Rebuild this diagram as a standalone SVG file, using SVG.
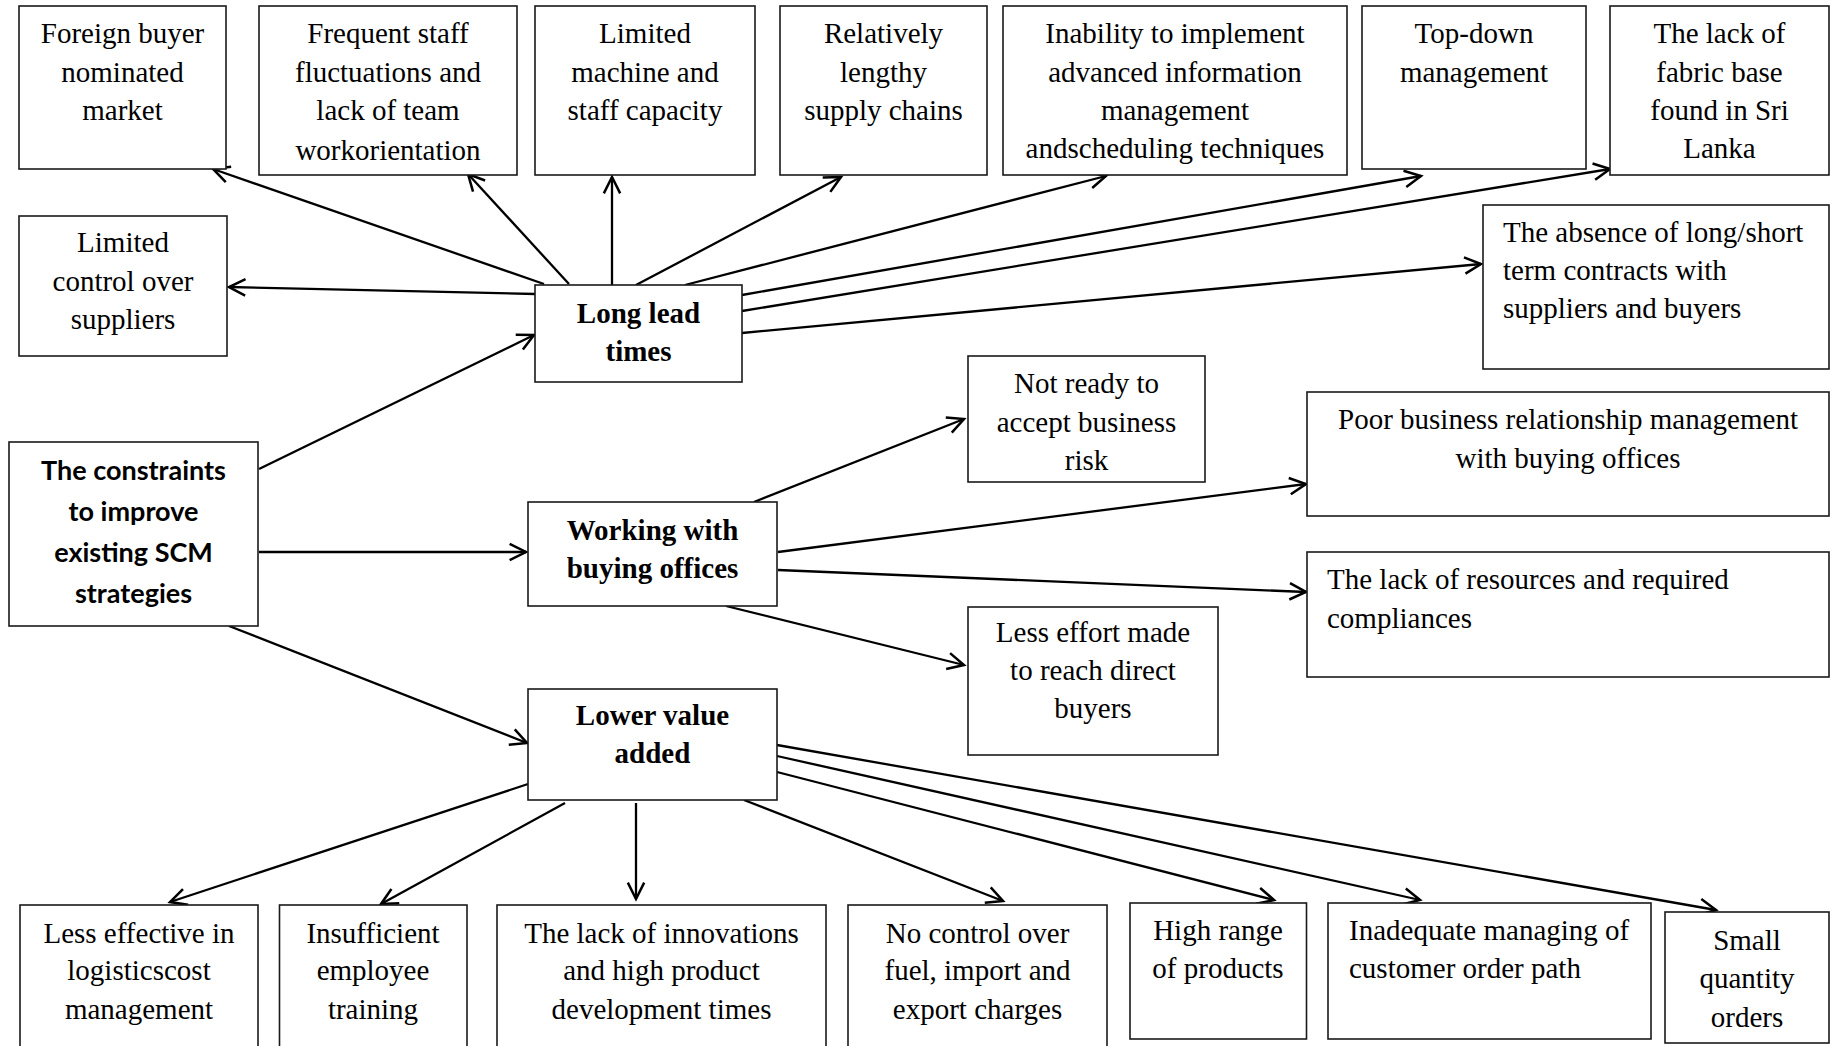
<svg xmlns="http://www.w3.org/2000/svg" width="1830" height="1046" viewBox="0 0 1830 1046">
  <style>
    .box { fill: #ffffff; stroke: #1a1a1a; stroke-width: 1.6; }
    .t { font-family: "Liberation Serif", "Times New Roman", serif; font-size: 29px; fill: #000; }
    .c { text-anchor: middle; }
    .b { font-weight: bold; }
    .root { font-family: Lato, "Open Sans", sans-serif; font-weight: bold; font-size: 27px; fill: #000; text-anchor: middle; }
    .edge { fill: none; stroke: #000; stroke-width: 2.3; marker-end: url(#arrow); }
  </style>
  <defs>
    <marker id="arrow" markerUnits="userSpaceOnUse" markerWidth="24" markerHeight="24" viewBox="-18 -10 22 20" refX="0" refY="0" orient="auto">
      <path d="M-15,-7.5 L0,0 L-15,7.5" fill="none" stroke="#000" stroke-width="2.3"/>
    </marker>
  </defs>
  <rect width="1830" height="1046" fill="#ffffff"/>

  <!-- connectors -->
  <g id="connectors">
    <!-- from Long lead times -->
    <line class="edge" x1="544" y1="284" x2="213" y2="169"/>
    <line class="edge" x1="569" y1="284" x2="468" y2="174"/>
    <line class="edge" x1="612" y1="285" x2="612" y2="177"/>
    <line class="edge" x1="636" y1="285" x2="841" y2="177"/>
    <line class="edge" x1="685" y1="285" x2="1106" y2="176"/>
    <line class="edge" x1="742" y1="295" x2="1421" y2="176"/>
    <line class="edge" x1="742" y1="311" x2="1610" y2="169"/>
    <line class="edge" x1="742" y1="333" x2="1481" y2="264"/>
    <line class="edge" x1="535" y1="294" x2="229" y2="287"/>
    <!-- from the root -->
    <line class="edge" x1="259" y1="469" x2="534" y2="335"/>
    <line class="edge" x1="259" y1="552" x2="526" y2="552"/>
    <line class="edge" x1="229" y1="626" x2="527" y2="743"/>
    <!-- from Working with buying offices -->
    <line class="edge" x1="754" y1="502" x2="964" y2="419"/>
    <line class="edge" x1="778" y1="552" x2="1306" y2="484"/>
    <line class="edge" x1="778" y1="570" x2="1306" y2="592"/>
    <line class="edge" x1="726" y1="606" x2="964" y2="665"/>
    <!-- from Lower value added -->
    <line class="edge" x1="528" y1="784" x2="170" y2="902"/>
    <line class="edge" x1="565" y1="803" x2="381" y2="904"/>
    <line class="edge" x1="636" y1="803" x2="636" y2="899"/>
    <line class="edge" x1="744" y1="800" x2="1003" y2="901"/>
    <line class="edge" x1="777" y1="772" x2="1274" y2="900"/>
    <line class="edge" x1="777" y1="756" x2="1420" y2="900"/>
    <line class="edge" x1="777" y1="745" x2="1716" y2="910"/>
  </g>

  <!-- root -->
  <g id="constraints">
    <rect class="box" x="9" y="442" width="249" height="184"/>
    <text class="root" x="133.5" y="480">The constraints</text>
    <text class="root" x="133.5" y="521">to improve</text>
    <text class="root" x="133.5" y="562">existing SCM</text>
    <text class="root" x="133.5" y="603">strategies</text>
  </g>

  <!-- main branches -->
  <g id="long-lead-times">
    <rect class="box" x="535" y="285" width="207" height="97"/>
    <text class="t c b" x="638.5" y="323">Long lead</text>
    <text class="t c b" x="638.5" y="361">times</text>
  </g>
  <g id="working-with-buying-offices">
    <rect class="box" x="528" y="502" width="249" height="104"/>
    <text class="t c b" x="652.5" y="540">Working with</text>
    <text class="t c b" x="652.5" y="578">buying offices</text>
  </g>
  <g id="lower-value-added">
    <rect class="box" x="528" y="689" width="249" height="111"/>
    <text class="t c b" x="652.5" y="725">Lower value</text>
    <text class="t c b" x="652.5" y="763">added</text>
  </g>

  <!-- Long lead times causes -->
  <g id="foreign-buyer">
    <rect class="box" x="19" y="6" width="207" height="163"/>
    <text class="t c" x="122.5" y="43">Foreign buyer</text>
    <text class="t c" x="122.5" y="82">nominated</text>
    <text class="t c" x="122.5" y="120">market</text>
  </g>
  <g id="staff-fluctuations">
    <rect class="box" x="259" y="6" width="258" height="169"/>
    <text class="t c" x="388" y="43">Frequent staff</text>
    <text class="t c" x="388" y="82">fluctuations and</text>
    <text class="t c" x="388" y="120">lack of team</text>
    <text class="t c" x="388" y="160">workorientation</text>
  </g>
  <g id="machine-capacity">
    <rect class="box" x="535" y="6" width="220" height="169"/>
    <text class="t c" x="645" y="43">Limited</text>
    <text class="t c" x="645" y="82">machine and</text>
    <text class="t c" x="645" y="120">staff capacity</text>
  </g>
  <g id="supply-chains">
    <rect class="box" x="780" y="6" width="207" height="169"/>
    <text class="t c" x="883.5" y="43">Relatively</text>
    <text class="t c" x="883.5" y="82">lengthy</text>
    <text class="t c" x="883.5" y="120">supply chains</text>
  </g>
  <g id="information-management">
    <rect class="box" x="1003" y="6" width="344" height="169"/>
    <text class="t c" x="1175" y="43">Inability to implement</text>
    <text class="t c" x="1175" y="82">advanced information</text>
    <text class="t c" x="1175" y="120">management</text>
    <text class="t c" x="1175" y="158">andscheduling techniques</text>
  </g>
  <g id="top-down">
    <rect class="box" x="1362" y="6" width="224" height="163"/>
    <text class="t c" x="1474" y="43">Top-down</text>
    <text class="t c" x="1474" y="82">management</text>
  </g>
  <g id="fabric-base">
    <rect class="box" x="1610" y="6" width="219" height="169"/>
    <text class="t c" x="1719.5" y="43">The lack of</text>
    <text class="t c" x="1719.5" y="82">fabric base</text>
    <text class="t c" x="1719.5" y="120">found in Sri</text>
    <text class="t c" x="1719.5" y="158">Lanka</text>
  </g>
  <g id="supplier-control">
    <rect class="box" x="19" y="216" width="208" height="140"/>
    <text class="t c" x="123" y="252">Limited</text>
    <text class="t c" x="123" y="291">control over</text>
    <text class="t c" x="123" y="329">suppliers</text>
  </g>
  <g id="contracts">
    <rect class="box" x="1483" y="205" width="346" height="164"/>
    <text class="t" x="1503" y="242">The absence of long/short</text>
    <text class="t" x="1503" y="280">term contracts with</text>
    <text class="t" x="1503" y="318">suppliers and buyers</text>
  </g>

  <!-- Working with buying offices causes -->
  <g id="business-risk">
    <rect class="box" x="968" y="356" width="237" height="126"/>
    <text class="t c" x="1086.5" y="393">Not ready to</text>
    <text class="t c" x="1086.5" y="432">accept business</text>
    <text class="t c" x="1086.5" y="470">risk</text>
  </g>
  <g id="relationship-management">
    <rect class="box" x="1307" y="392" width="522" height="124"/>
    <text class="t c" x="1568" y="429">Poor business relationship management</text>
    <text class="t c" x="1568" y="468">with buying offices</text>
  </g>
  <g id="resources-compliances">
    <rect class="box" x="1307" y="552" width="522" height="125"/>
    <text class="t" x="1327" y="589">The lack of resources and required</text>
    <text class="t" x="1327" y="628">compliances</text>
  </g>
  <g id="direct-buyers">
    <rect class="box" x="968" y="607" width="250" height="148"/>
    <text class="t c" x="1093" y="642">Less effort made</text>
    <text class="t c" x="1093" y="680">to reach direct</text>
    <text class="t c" x="1093" y="718">buyers</text>
  </g>

  <!-- Lower value added causes -->
  <g id="logistics-cost">
    <rect class="box" x="20" y="905" width="238" height="150"/>
    <text class="t c" x="139" y="943">Less effective in</text>
    <text class="t c" x="139" y="980">logisticscost</text>
    <text class="t c" x="139" y="1019">management</text>
  </g>
  <g id="employee-training">
    <rect class="box" x="279.5" y="905" width="187.5" height="150"/>
    <text class="t c" x="373" y="943">Insufficient</text>
    <text class="t c" x="373" y="980">employee</text>
    <text class="t c" x="373" y="1019">training</text>
  </g>
  <g id="innovations">
    <rect class="box" x="497" y="905" width="329" height="150"/>
    <text class="t c" x="661.5" y="943">The lack of innovations</text>
    <text class="t c" x="661.5" y="980">and high product</text>
    <text class="t c" x="661.5" y="1019">development times</text>
  </g>
  <g id="charges">
    <rect class="box" x="848" y="905" width="259" height="150"/>
    <text class="t c" x="977.5" y="943">No control over</text>
    <text class="t c" x="977.5" y="980">fuel, import and</text>
    <text class="t c" x="977.5" y="1019">export charges</text>
  </g>
  <g id="product-range">
    <rect class="box" x="1130" y="903" width="176.5" height="136"/>
    <text class="t c" x="1218" y="940">High range</text>
    <text class="t c" x="1218" y="978">of products</text>
  </g>
  <g id="order-path">
    <rect class="box" x="1328" y="903" width="323" height="136"/>
    <text class="t" x="1349" y="940">Inadequate managing of</text>
    <text class="t" x="1349" y="978">customer order path</text>
  </g>
  <g id="small-orders">
    <rect class="box" x="1665" y="912" width="164" height="131"/>
    <text class="t c" x="1747" y="950">Small</text>
    <text class="t c" x="1747" y="988">quantity</text>
    <text class="t c" x="1747" y="1027">orders</text>
  </g>
</svg>
